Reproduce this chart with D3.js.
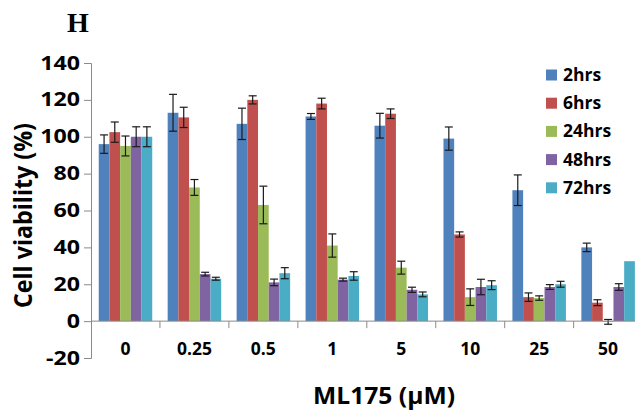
<!DOCTYPE html>
<html>
<head>
<meta charset="utf-8">
<script src="https://cdn.jsdelivr.net/npm/d3@7"></script>
<style>
  html, body { margin: 0; padding: 0; background: #fff; }
  svg { display: block; }
  text { font-family: "Open Sans", "DejaVu Sans", sans-serif; font-weight: bold; fill: #000; }
</style>
</head>
<body>
<svg id="chart" width="635" height="410"></svg>
<script>
const categories = ["0", "0.25", "0.5", "1", "5", "10", "25", "50"];
const seriesNames = ["2hrs", "6hrs", "24hrs", "48hrs", "72hrs"];
const seriesColors = ["#4F81BD", "#C0504D", "#9BBB59", "#8064A2", "#4BACC6"];

const values2h  = [96, 113, 107, 111, 106, 99, 71, 40];
const values6h  = [102.5, 110.5, 120, 118, 112.5, 47, 13, 10];
const values24h = [95, 72.5, 63, 41, 29, 13, 12.5, -0.4];
const values48h = [100, 25.5, 21, 22.5, 17, 18.5, 18.5, 18.5];
const values72h = [100, 23, 26, 24.5, 14.5, 19.5, 20, 32.5];

const err2h  = [5, 10, 8.5, 1.6, 6.7, 6.3, 8.3, 2.3];
const err6h  = [5.5, 5.5, 2.2, 2.9, 2.6, 1.4, 2.3, 1.6];
const err24h = [5.4, 4.3, 10.2, 6.3, 3.5, 4.5, 1.2, 1.3];
const err48h = [5.4, 1, 1.8, 0.8, 1.4, 4.2, 1.3, 1.8];
const err72h = [5.4, 0.8, 3, 2.3, 1.3, 2.4, 1.6, 0];

const yTicks = [-20, 0, 20, 40, 60, 80, 100, 120, 140];
const yTickLabels = ["-20", "0", "20", "40", "60", "80", "100", "120", "140"];

const titleText = "H";
const yTitle = "Cell viability (%)";
const xTitle = "ML175 (\u03bcM)";

const allValues = [values2h, values6h, values24h, values48h, values72h];
const allErrors = [err2h, err6h, err24h, err48h, err72h];

const data = [];
categories.forEach((c, i) => {
  seriesNames.forEach((s, j) => {
    data.push({ cat: c, series: s, value: allValues[j][i], err: allErrors[j][i], color: seriesColors[j] });
  });
});

const svg = d3.select("#chart");

const x0 = d3.scaleBand().domain(categories).range([91, 642.6]).padding(0);
const bw = x0.bandwidth();
const x1 = d3.scaleBand().domain(seriesNames).range([bw * 0.112, bw * 0.888]).padding(0);
const y = d3.scaleLinear().domain([-20, 140]).range([358, 63]);

const axisColor = "#8a8a8a";

// bars
svg.append("g").selectAll("rect").data(data).join("rect")
  .attr("x", d => x0(d.cat) + x1(d.series))
  .attr("width", x1.bandwidth())
  .attr("y", d => Math.min(y(d.value), y(0)))
  .attr("height", d => Math.abs(y(d.value) - y(0)))
  .attr("fill", d => d.color);

// error bars
const eb = svg.append("g").attr("stroke", "#1a1a1a").attr("stroke-width", 1.2);
data.filter(d => d.err > 0).forEach(d => {
  const cx = x0(d.cat) + x1(d.series) + x1.bandwidth() / 2;
  const y1 = y(d.value + d.err), y2 = y(d.value - d.err);
  eb.append("line").attr("x1", cx).attr("x2", cx).attr("y1", y1).attr("y2", y2);
  eb.append("line").attr("x1", cx - 4).attr("x2", cx + 4).attr("y1", y1).attr("y2", y1);
  eb.append("line").attr("x1", cx - 4).attr("x2", cx + 4).attr("y1", y2).attr("y2", y2);
});

// y axis
const yAxis = d3.axisLeft(y).tickValues(yTicks).tickSize(7).tickPadding(4)
  .tickFormat((d, i) => yTickLabels[i]);
const gy = svg.append("g").attr("transform", "translate(91,0)").call(yAxis);
gy.select(".domain").attr("stroke", axisColor);
gy.selectAll(".tick line").attr("stroke", axisColor);
gy.selectAll(".tick text").attr("font-size", 19).attr("fill", "#000")
  .style("font-family", "'Open Sans', sans-serif").style("font-weight", "bold")
  .each(function() {
    const w = this.getComputedTextLength();
    d3.select(this).attr("textLength", w * 1.22).attr("lengthAdjust", "spacingAndGlyphs");
  });

// x axis at zero
const xAxis = d3.axisBottom(x0).tickSize(0).tickFormat(() => "");
const gx = svg.append("g").attr("transform", `translate(0,${y(0)})`).call(xAxis);
gx.select(".domain").attr("stroke", axisColor).attr("d", `M91,0H642.6`);
svg.append("g").selectAll("line").data(categories.slice(1)).join("line")
  .attr("x1", d => x0(d)).attr("x2", d => x0(d))
  .attr("y1", y(0)).attr("y2", y(0) + 7)
  .attr("stroke", axisColor);

// category labels
svg.append("g").selectAll("text").data(categories).join("text")
  .attr("x", d => x0(d) + bw / 2)
  .attr("y", 355)
  .attr("text-anchor", "middle")
  .attr("font-size", 17.5)
  .text(d => d);

// titles
svg.append("text")
  .attr("x", 67).attr("y", 32)
  .style("font-family", "'Liberation Serif', 'Times New Roman', serif")
  .attr("font-size", 28)
  .text(titleText);

svg.append("text")
  .attr("transform", "translate(32,215.5) rotate(-90)")
  .attr("text-anchor", "middle")
  .attr("font-size", 25)
  .attr("textLength", 185).attr("lengthAdjust", "spacingAndGlyphs")
  .text(yTitle);

svg.append("text")
  .attr("x", 384).attr("y", 404)
  .attr("text-anchor", "middle")
  .attr("font-size", 24)
  .attr("textLength", 142).attr("lengthAdjust", "spacingAndGlyphs")
  .text(xTitle);

// legend
const legend = svg.append("g");
seriesNames.forEach((s, j) => {
  const cy = 75 + j * 28.2;
  legend.append("rect").attr("x", 546).attr("y", cy - 5.5).attr("width", 11).attr("height", 11).attr("fill", seriesColors[j]);
  legend.append("text").attr("x", 563).attr("y", cy + 6).attr("font-size", 17.5).text(s);
});
</script>
</body>
</html>
